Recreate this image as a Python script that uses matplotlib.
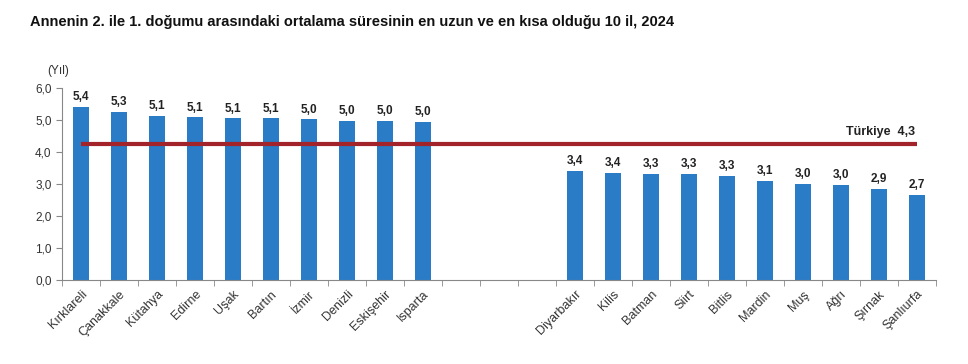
import numpy as np
import matplotlib
matplotlib.use("Agg")
from matplotlib import pyplot as plt

plt.rcParams['font.family'] = ['Liberation Sans', 'DejaVu Sans']

# longest 10 provinces
long_names = ["Kırklareli", "Çanakkale", "Kütahya", "Edirne", "Uşak", "Bartın",
              "İzmir", "Denizli", "Eskişehir", "Isparta"]
long_vals = [5.41, 5.26, 5.12, 5.08, 5.05, 5.05, 5.02, 4.98, 4.98, 4.95]
long_labels = ["5,4", "5,3", "5,1", "5,1", "5,1", "5,1", "5,0", "5,0", "5,0", "5,0"]

# shortest 10 provinces
short_names = ["Diyarbakır", "Kilis", "Batman", "Siirt", "Bitlis", "Mardin",
               "Muş", "Ağrı", "Şırnak", "Şanlıurfa"]
short_vals = [3.41, 3.35, 3.31, 3.31, 3.25, 3.10, 3.00, 2.96, 2.85, 2.66]
short_labels = ["3,4", "3,4", "3,3", "3,3", "3,3", "3,1", "3,0", "3,0", "2,9", "2,7"]

turkiye = 4.26
turkiye_label = "Türkiye  4,3"
title = "Annenin 2. ile 1. doğumu arasındaki ortalama süresinin en uzun ve en kısa olduğu 10 il, 2024"

gap = 3
x_long = np.arange(len(long_names))
x_short = np.arange(len(short_names)) + len(long_names) + gap
n_slots = len(long_names) + gap + len(short_names)

bar_col = "#2A7CC6"
line_col = "#A3232B"

fig = plt.figure(figsize=(9.68, 3.64), dpi=100)
ax = fig.add_axes([62/968, 1 - 280/364, (936 - 62)/968, (280 - 88)/364])

xs = np.concatenate([x_long, x_short])
vals = long_vals + short_vals
labels = long_labels + short_labels
names = long_names + short_names

ax.bar(xs, vals, width=0.42, color=bar_col, zorder=2)
for x, v, lab in zip(xs, vals, labels):
    ax.text(x, v + 0.12, lab, ha='center', va='bottom', fontsize=8.5,
            fontweight='bold', color='#222222')

ax.plot([xs[0], xs[-1]], [turkiye, turkiye], color=line_col, lw=3, zorder=3,
        solid_capstyle='butt')
ax.text(xs[-1] - 0.05, turkiye + 0.18, turkiye_label, ha='right', va='bottom',
        fontsize=9, fontweight='bold', color='#222222')

ax.set_xlim(-0.5, n_slots - 0.5)
ax.set_ylim(0, 6)
ax.set_yticks(np.arange(0, 6.1, 1.0))
ax.set_yticklabels([f"{t:.1f}".replace(".", ",") for t in np.arange(0, 6.1, 1.0)])
ax.tick_params(axis='y', labelsize=8.5, length=4, color='#888888', labelcolor='#333333')

ax.set_xticks(xs)
ax.set_xticklabels(names, rotation=45, ha='right', rotation_mode='anchor',
                   fontsize=9, color='#333333')
ax.tick_params(axis='x', which='major', length=0, pad=6)
ax.set_xticks(np.arange(-0.5, n_slots, 1.0), minor=True)
ax.tick_params(axis='x', which='minor', length=4, color='#888888')

for s in ['top', 'right']:
    ax.spines[s].set_visible(False)
for s in ['left', 'bottom']:
    ax.spines[s].set_color('#888888')

ax.text(-0.6, 6.35, "(Yıl)", ha='center', va='bottom', fontsize=8.5, color='#333333')

fig.text(30/968, 1 - 22/364, title, ha='left', va='center', fontsize=10.5,
         fontweight='bold', color='#111111')

fig.savefig("out.png", dpi=100)
